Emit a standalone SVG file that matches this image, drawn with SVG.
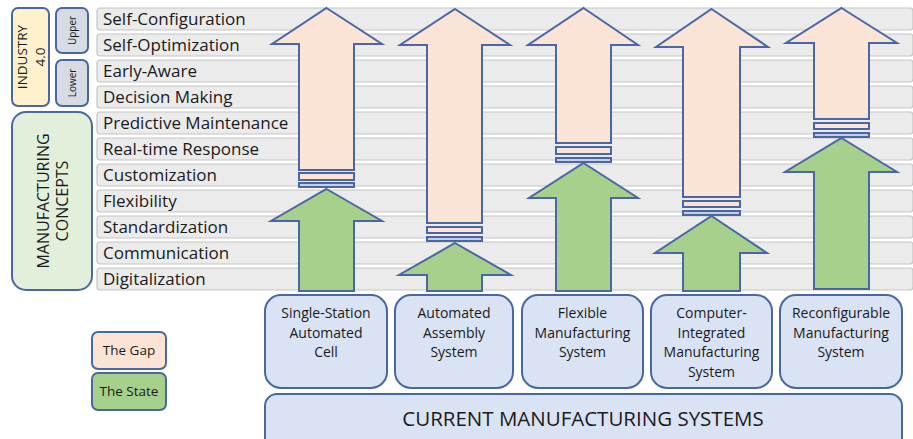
<svg xmlns="http://www.w3.org/2000/svg" width="913" height="439" viewBox="0 0 913 439">
<style>
.row{fill:#ebebeb;stroke:#c6c6c6;stroke-width:1.2}
.rl{font-family:"Open Sans","Liberation Sans",sans-serif;font-size:17px;fill:#1a1a1a}
.gap{fill:#fbe4d6;stroke:#4a67a5;stroke-width:2;stroke-linejoin:miter}
.state{fill:#a8d08d;stroke:#4a67a5;stroke-width:2;stroke-linejoin:miter}
.sys{fill:#dae3f3;stroke:#4a67a5;stroke-width:2}
.st{font-family:"Open Sans","Liberation Sans",sans-serif;font-size:14px;fill:#1a1a1a;text-anchor:middle}
.lab{font-family:"Open Sans","Liberation Sans",sans-serif;fill:#1a1a1a;text-anchor:middle}
</style>
<rect width="913" height="439" fill="#ffffff"/>
<g id="rows">
<rect class="row" x="97" y="8" width="816" height="22" rx="3"/>
<rect class="row" x="97" y="34" width="816" height="22" rx="3"/>
<rect class="row" x="97" y="60" width="816" height="22" rx="3"/>
<rect class="row" x="97" y="86" width="816" height="22" rx="3"/>
<rect class="row" x="97" y="112" width="816" height="22" rx="3"/>
<rect class="row" x="97" y="138" width="816" height="22" rx="3"/>
<rect class="row" x="97" y="164" width="816" height="22" rx="3"/>
<rect class="row" x="97" y="190" width="816" height="22" rx="3"/>
<rect class="row" x="97" y="216" width="816" height="22" rx="3"/>
<rect class="row" x="97" y="242" width="816" height="22" rx="3"/>
<rect class="row" x="97" y="268" width="816" height="22" rx="3"/>
<text class="rl" x="103" y="25">Self-Configuration</text>
<text class="rl" x="103" y="51">Self-Optimization</text>
<text class="rl" x="103" y="77">Early-Aware</text>
<text class="rl" x="103" y="103">Decision Making</text>
<text class="rl" x="103" y="129">Predictive Maintenance</text>
<text class="rl" x="103" y="155">Real-time Response</text>
<text class="rl" x="103" y="181">Customization</text>
<text class="rl" x="103" y="207">Flexibility</text>
<text class="rl" x="103" y="233">Standardization</text>
<text class="rl" x="103" y="259">Communication</text>
<text class="rl" x="103" y="285">Digitalization</text>
</g>
<g id="industry40">
<rect x="12" y="8" width="37" height="98" rx="6" fill="#fef1cb" stroke="#4a67a5" stroke-width="2"/>
<g transform="translate(30.5,57) rotate(-90)">
<text class="lab" x="0" y="-3.5" font-size="13.5">INDUSTRY</text>
<text class="lab" x="0" y="14" font-size="13.5">4.0</text>
</g>
</g>
<g id="upper">
<rect x="56" y="8" width="32" height="45" rx="6" fill="#d6dbe4" stroke="#4a67a5" stroke-width="2"/>
<text class="lab" font-size="10" transform="translate(76,30.5) rotate(-90)">Upper</text>
</g>
<g id="lower">
<rect x="56" y="60" width="32" height="46" rx="6" fill="#d6dbe4" stroke="#4a67a5" stroke-width="2"/>
<text class="lab" font-size="10" transform="translate(76,83) rotate(-90)">Lower</text>
</g>
<g id="concepts">
<rect x="12" y="112" width="80" height="178" rx="14" fill="#e2efda" stroke="#4a67a5" stroke-width="2"/>
<g transform="translate(52,201) rotate(-90)">
<text class="lab" x="0" y="-3" font-size="16">MANUFACTURING</text>
<text class="lab" x="0" y="16" font-size="16">CONCEPTS</text>
</g>
</g>
<g id="arrows">
<polygon class="gap" points="326.5,8 382,44 354,44 354,170 299,170 299,44 272,44"/>
<rect class="gap" x="299" y="173" width="55" height="7"/>
<rect class="gap" x="299" y="183" width="55" height="4" style="fill:#c9cfe0"/>
<polygon class="state" points="326.5,189 382,221 354,221 354,291 299,291 299,221 271,221"/>

<polygon class="gap" points="455,9 510,45 482,45 482,223 427,223 427,45 400,45"/>
<rect class="gap" x="427" y="227" width="55" height="6"/>
<rect class="gap" x="427" y="237" width="55" height="4" style="fill:#c9cfe0"/>
<polygon class="state" points="455,243 511,275 482,275 482,291 427,291 427,275 399,275"/>

<polygon class="gap" points="583.5,8 638,45 611,45 611,143 556,143 556,45 528,45"/>
<rect class="gap" x="556" y="147" width="55" height="7"/>
<rect class="gap" x="556" y="158" width="55" height="4" style="fill:#c9cfe0"/>
<polygon class="state" points="583.5,163 638,198 611,198 611,291 556,291 556,198 529,198"/>

<polygon class="gap" points="711.5,9 768,47 740,47 740,197 683,197 683,47 656,47"/>
<rect class="gap" x="683" y="201" width="57" height="6"/>
<rect class="gap" x="683" y="211" width="57" height="4" style="fill:#c9cfe0"/>
<polygon class="state" points="711.5,216 767,253 740,253 740,291 683,291 683,253 655,253"/>

<polygon class="gap" points="841.5,8 897,43 869,43 869,119 814,119 814,43 786,43"/>
<rect class="gap" x="814" y="123" width="55" height="6"/>
<rect class="gap" x="814" y="133" width="55" height="4" style="fill:#c9cfe0"/>
<polygon class="state" points="841.5,138 897,172 869,172 869,289 814,289 814,172 785,172"/>
</g>
<g id="sys1">
<rect class="sys" x="265" y="295" width="122" height="93" rx="16"/>
<text class="st" x="326" y="318">Single-Station</text>
<text class="st" x="326" y="338">Automated</text>
<text class="st" x="326" y="357">Cell</text>
</g>
<g id="sys2">
<rect class="sys" x="395" y="295" width="118" height="93" rx="16"/>
<text class="st" x="454" y="318">Automated</text>
<text class="st" x="454" y="338">Assembly</text>
<text class="st" x="454" y="357">System</text>
</g>
<g id="sys3">
<rect class="sys" x="522" y="295" width="121" height="93" rx="16"/>
<text class="st" x="582.5" y="318">Flexible</text>
<text class="st" x="582.5" y="338">Manufacturing</text>
<text class="st" x="582.5" y="357">System</text>
</g>
<g id="sys4">
<rect class="sys" x="651" y="295" width="121" height="93" rx="16"/>
<text class="st" x="711.5" y="318">Computer-</text>
<text class="st" x="711.5" y="338">Integrated</text>
<text class="st" x="711.5" y="357">Manufacturing</text>
<text class="st" x="711.5" y="377">System</text>
</g>
<g id="sys5">
<rect class="sys" x="780" y="295" width="122" height="93" rx="16"/>
<text class="st" x="841" y="318">Reconfigurable</text>
<text class="st" x="841" y="338">Manufacturing</text>
<text class="st" x="841" y="357">System</text>
</g>
<g id="current">
<rect class="sys" x="265" y="394" width="637" height="56" rx="12"/>
<text class="lab" x="583" y="426" font-size="20.5">CURRENT MANUFACTURING SYSTEMS</text>
</g>
<g id="legend-gap">
<rect x="92" y="332" width="74" height="37" rx="6" fill="#fbe4d6" stroke="#4a67a5" stroke-width="2"/>
<text class="st" x="129" y="355" font-size="13.5" style="font-size:13.5px">The Gap</text>
</g>
<g id="legend-state">
<rect x="92" y="373" width="74" height="37" rx="6" fill="#a8d08d" stroke="#4a67a5" stroke-width="2"/>
<text class="st" x="129" y="396" style="font-size:13.5px">The State</text>
</g>
</svg>
